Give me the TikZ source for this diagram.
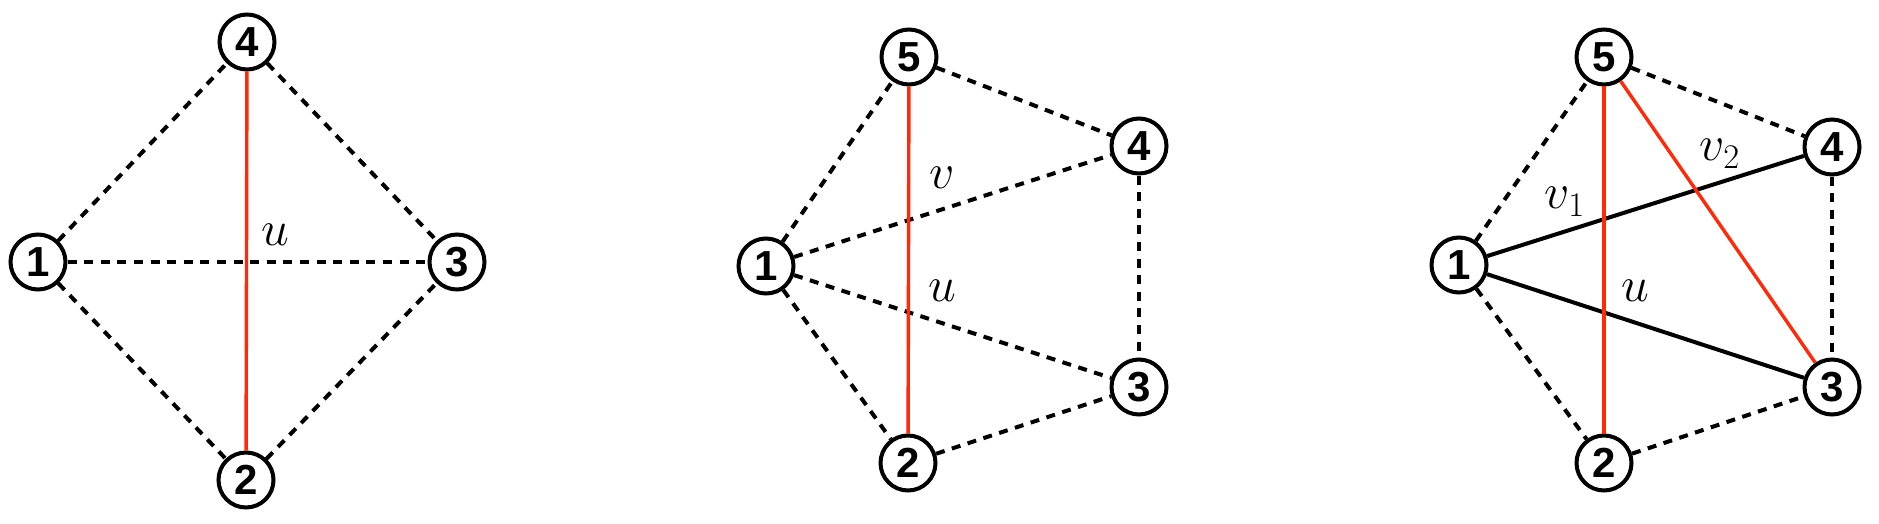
\documentclass[tikz,border=0pt]{standalone}
\usepackage{fontspec}
\usepackage{xcolor}
\usepackage{tikz}
\newfontfamily\vtxfont{Liberation Sans}
\definecolor{cutred}{HTML}{FF2A0A}

\begin{document}
\begin{tikzpicture}[x=0.5pt, y=-0.5pt,
  vtx/.style={circle, draw, line width=2pt, fill=white, minimum size=27.5pt, inner sep=0pt,
              font=\vtxfont\bfseries\fontsize{21}{22}\selectfont},
  dsh/.style={line width=2pt, dash pattern=on 4.5pt off 3.8pt},
  sld/.style={line width=2pt},
  cut/.style={line width=1.7pt, draw=cutred},
  lbl/.style={inner sep=0pt, font=\fontsize{27}{29}\selectfont}]
  \useasboundingbox (0,0) rectangle (1879,524);

  % left: four vertices
  \node[vtx] (a1) at (38,262) {1};
  \node[vtx] (a2) at (246,480) {2};
  \node[vtx] (a3) at (457,262) {3};
  \node[vtx] (a4) at (247,42) {4};
  \node[lbl] (au) at (275,235) {$u$};
  \draw[dsh] (a1) -- (a4);
  \draw[dsh] (a4) -- (a3);
  \draw[dsh] (a1) -- (a3);
  \draw[dsh] (a1) -- (a2);
  \draw[dsh] (a2) -- (a3);
  \draw[cut] (a4) -- (a2);

  % middle: five vertices
  \node[vtx] (b1) at (766,266) {1};
  \node[vtx] (b2) at (908,463) {2};
  \node[vtx] (b3) at (1139,387) {3};
  \node[vtx] (b4) at (1139,146) {4};
  \node[vtx] (b5) at (909,57) {5};
  \node[lbl] (bv) at (942,178) {$v$};
  \node[lbl] (bu) at (942,291) {$u$};
  \draw[dsh] (b1) -- (b5);
  \draw[dsh] (b5) -- (b4);
  \draw[dsh] (b1) -- (b4);
  \draw[dsh] (b4) -- (b3);
  \draw[dsh] (b1) -- (b3);
  \draw[dsh] (b1) -- (b2);
  \draw[dsh] (b2) -- (b3);
  \draw[cut] (b5) -- (b2);

  % right: five vertices, two cuts
  \node[vtx] (c1) at (1459,265) {1};
  \node[vtx] (c2) at (1604,463) {2};
  \node[vtx] (c3) at (1832,387) {3};
  \node[vtx] (c4) at (1832,147) {4};
  \node[vtx] (c5) at (1604,57) {5};
  \node[lbl] (cv1) at (1565,202) {$v_1$};
  \node[lbl] (cv2) at (1720,154) {$v_2$};
  \node[lbl] (cu) at (1635,291) {$u$};
  \draw[dsh] (c1) -- (c5);
  \draw[dsh] (c5) -- (c4);
  \draw[dsh] (c4) -- (c3);
  \draw[dsh] (c1) -- (c2);
  \draw[dsh] (c2) -- (c3);
  \draw[sld] (c1) -- (c4);
  \draw[sld] (c1) -- (c3);
  \draw[cut] (c5) -- (c2);
  \draw[cut] (c5) -- (c3);
\end{tikzpicture}
\end{document}
